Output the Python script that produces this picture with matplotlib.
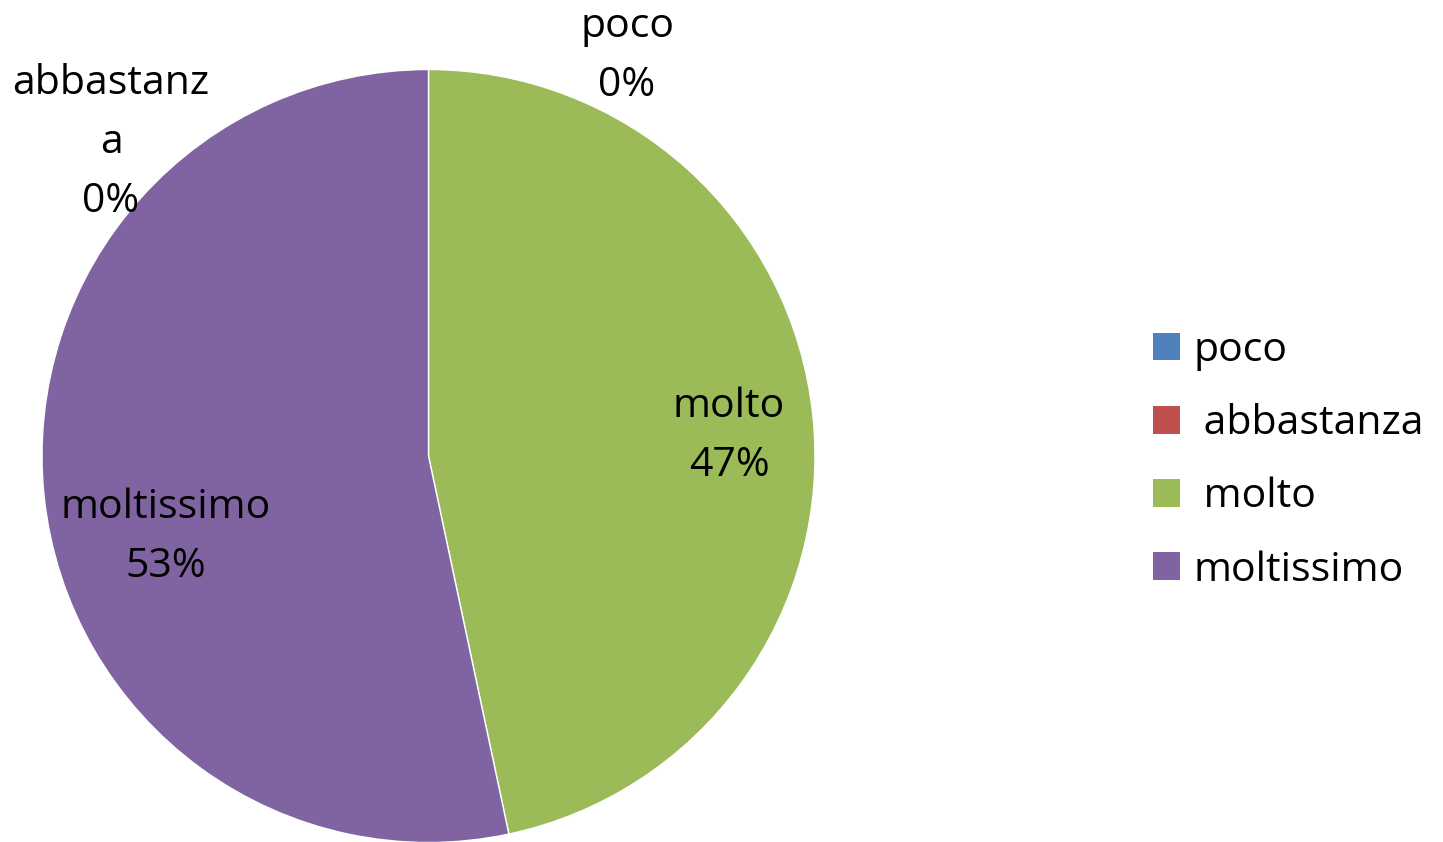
import matplotlib
matplotlib.use("Agg")
import matplotlib.pyplot as plt

categories = ["poco", "abbastanza", "molto", "moltissimo"]
legend_labels = ["poco", " abbastanza", " molto", "moltissimo"]
values = [0, 0, 7, 8]
colors = ["#4F81BD", "#C0504D", "#9BBB59", "#8064A2"]

plt.rcParams['font.family'] = ['Open Sans', 'DejaVu Sans']

W, H = 1443, 842
fig = plt.figure(figsize=(W / 100, H / 100), dpi=100)

cx, cy, r = 428.5, 456.0, 386.5
ax = fig.add_axes([(cx - r) / W, (H - cy - r) / H, 2 * r / W, 2 * r / H])

wedges, _ = ax.pie(values, colors=colors, startangle=90, counterclock=False,
                   radius=1, wedgeprops=dict(edgecolor="white", linewidth=1))
ax.set_aspect("auto")
ax.set_xlim(-1, 1)
ax.set_ylim(-1, 1)
ax.axis("off")

total = sum(values)
pct = [f"{v / total:.0%}" for v in values]

fs = 29.5
# label placements (pixel positions of text centres)
label_pos = {
    "poco": (627, 56, "poco\n" + pct[0]),
    "abbastanza": (111, 143, "abbastanz\na\n" + pct[1]),
    "molto": (729, 436, "molto\n" + pct[2]),
    "moltissimo": (166, 537, "moltissimo\n" + pct[3]),
}
for name, (x, y, txt) in label_pos.items():
    fig.text(x / W, 1 - y / H, txt, ha="center", va="center", fontsize=fs,
             linespacing=1.6, color="black")

leg = fig.legend(wedges, legend_labels, loc="center left",
                 bbox_to_anchor=(1153 / W, 1 - 460.5 / H), frameon=False,
                 fontsize=fs, handlelength=0.66, handleheight=0.66,
                 handletextpad=0.32, labelspacing=0.8, borderpad=0,
                 borderaxespad=0)
for h in leg.legend_handles:
    h.set_edgecolor("none")

fig.savefig("out.png", dpi=100)
